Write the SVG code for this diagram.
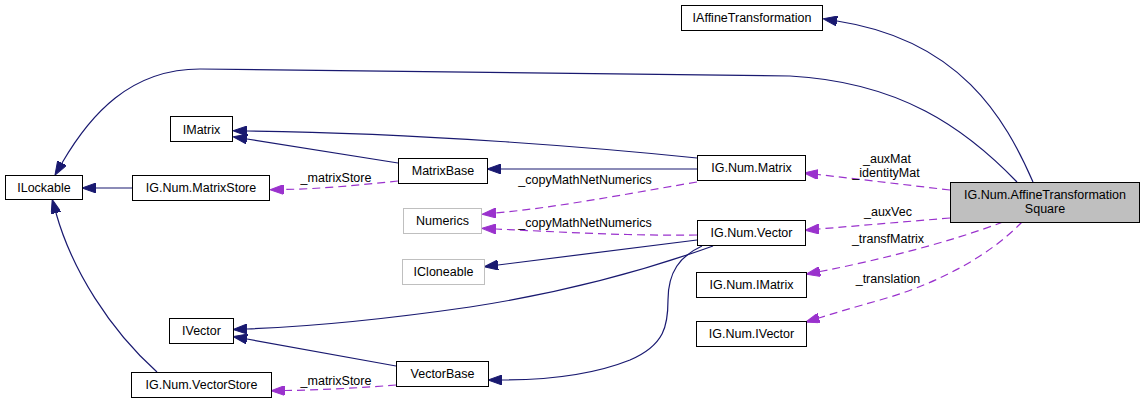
<svg xmlns="http://www.w3.org/2000/svg" width="1143" height="404" viewBox="0 0 1143 404">
<style>
text{font-family:"Liberation Sans",Arial,sans-serif;font-size:12.5px;fill:#000}
.node rect{fill:#fff;stroke:#000;stroke-width:1}
.node.ext rect{stroke:#bfbfbf}
.node.main rect{fill:#bfbfbf}
.node text{text-anchor:middle}
.inh{fill:none;stroke:#191970;stroke-width:1.2;marker-end:url(#an)}
.use{fill:none;stroke:#9a32cd;stroke-width:1.2;stroke-dasharray:8,5;marker-end:url(#ap)}
.lbl{text-anchor:middle}
</style>
<defs>
<marker id="an" markerUnits="userSpaceOnUse" markerWidth="14" markerHeight="10" viewBox="0 0 14 10" refX="0" refY="5" orient="auto">
<path d="M0,0 L14,5 L0,10 z" fill="#191970" stroke="#191970" stroke-width="1"/>
</marker>
<marker id="ap" markerUnits="userSpaceOnUse" markerWidth="14" markerHeight="10" viewBox="0 0 14 10" refX="0" refY="5" orient="auto">
<path d="M0,0 L14,5 L0,10 z" fill="#9a32cd" stroke="#9a32cd" stroke-width="1"/>
</marker>
</defs>
<rect width="1143" height="404" fill="#fff"/>
<g id="connectors">
<path class="inh" d="M1033,182 C1005,118 960,40 837,21"/>
<path class="inh" d="M1017,182 C965,128 900,82 790,76 L200,69 C130,69 90,115 62,163"/>
<path class="inh" d="M697,158 C600,148 420,133 247,131"/>
<path class="inh" d="M398,163 L247,139"/>
<path class="inh" d="M697,169 L501,169"/>
<path class="inh" d="M132,188 L96,188"/>
<path class="inh" d="M697,240 L498,265"/>
<path class="inh" d="M713,246 C660,265 580,290 470,307 C380,320 300,327 247,329"/>
<path class="inh" d="M702,246 C680,256 668,272 668,300 C668,325 665,345 630,360 C590,376 540,380 502,380"/>
<path class="inh" d="M396,366 L247,339"/>
<path class="inh" d="M157,372 C110,330 72,270 56,213"/>
<path class="use" d="M398,181 C360,185 320,189 284,189.5"/>
<path class="use" d="M697,182 C620,195 560,207 496,213"/>
<path class="use" d="M697,235 C630,236 560,232 496,229"/>
<path class="use" d="M396,385 C360,388 320,390 285,390.5"/>
<path class="use" d="M950,190 L818,174.5"/>
<path class="use" d="M950,218 L819,229"/>
<path class="use" d="M1003,222 C950,242 880,260 820,271.5"/>
<path class="use" d="M1022,222 C990,255 940,283 880,300 C855,307 835,313 819,318"/>
<text class="lbl" x="336" y="182">_matrixStore</text>
<text class="lbl" x="585" y="184">_copyMathNetNumerics</text>
<text class="lbl" x="585" y="227">_copyMathNetNumerics</text>
<text class="lbl" x="336" y="385">_matrixStore</text>
<text class="lbl" x="887" y="163">_auxMat</text>
<text class="lbl" x="886" y="177">_identityMat</text>
<text class="lbl" x="888" y="216">_auxVec</text>
<text class="lbl" x="888" y="243">_transfMatrix</text>
<text class="lbl" x="888" y="283">_translation</text>
</g>
<g id="IAffineTransformation" class="node"><rect x="681.5" y="5.5" width="141" height="25"/><text x="752" y="22">IAffineTransformation</text></g>
<g id="ILockable" class="node"><rect x="5.5" y="175.5" width="77" height="24"/><text x="44" y="192">ILockable</text></g>
<g id="IMatrix" class="node"><rect x="170.5" y="116.5" width="62" height="25"/><text x="201.5" y="133.5">IMatrix</text></g>
<g id="MatrixStore" class="node"><rect x="132.5" y="175.5" width="137" height="25"/><text x="201" y="192">IG.Num.MatrixStore</text></g>
<g id="MatrixBase" class="node"><rect x="398.5" y="158.5" width="89" height="25"/><text x="443" y="175">MatrixBase</text></g>
<g id="Numerics" class="node ext"><rect x="403.5" y="208.5" width="78" height="25"/><text x="442.5" y="225">Numerics</text></g>
<g id="Matrix" class="node"><rect x="697.5" y="155.5" width="108" height="25"/><text x="751.5" y="172">IG.Num.Matrix</text></g>
<g id="Vector" class="node"><rect x="697.5" y="220.5" width="108" height="25"/><text x="751.5" y="237">IG.Num.Vector</text></g>
<g id="AffineTransformationSquare" class="node main"><rect x="950.5" y="182.5" width="189" height="40"/><text x="1045" y="199">IG.Num.AffineTransformation</text><text x="1045" y="213">Square</text></g>
<g id="IGIMatrix" class="node"><rect x="696.5" y="272.5" width="110" height="25"/><text x="751.5" y="289">IG.Num.IMatrix</text></g>
<g id="IGIVector" class="node"><rect x="696.5" y="321.5" width="110" height="25"/><text x="751.5" y="338">IG.Num.IVector</text></g>
<g id="ICloneable" class="node ext"><rect x="402.5" y="259.5" width="82" height="25"/><text x="443.5" y="276">ICloneable</text></g>
<g id="IVector" class="node"><rect x="169.5" y="318.5" width="64" height="25"/><text x="201.5" y="335">IVector</text></g>
<g id="VectorStore" class="node"><rect x="131.5" y="372.5" width="140" height="25"/><text x="201.5" y="389">IG.Num.VectorStore</text></g>
<g id="VectorBase" class="node"><rect x="396.5" y="361.5" width="92" height="25"/><text x="442.5" y="378">VectorBase</text></g>
</svg>
